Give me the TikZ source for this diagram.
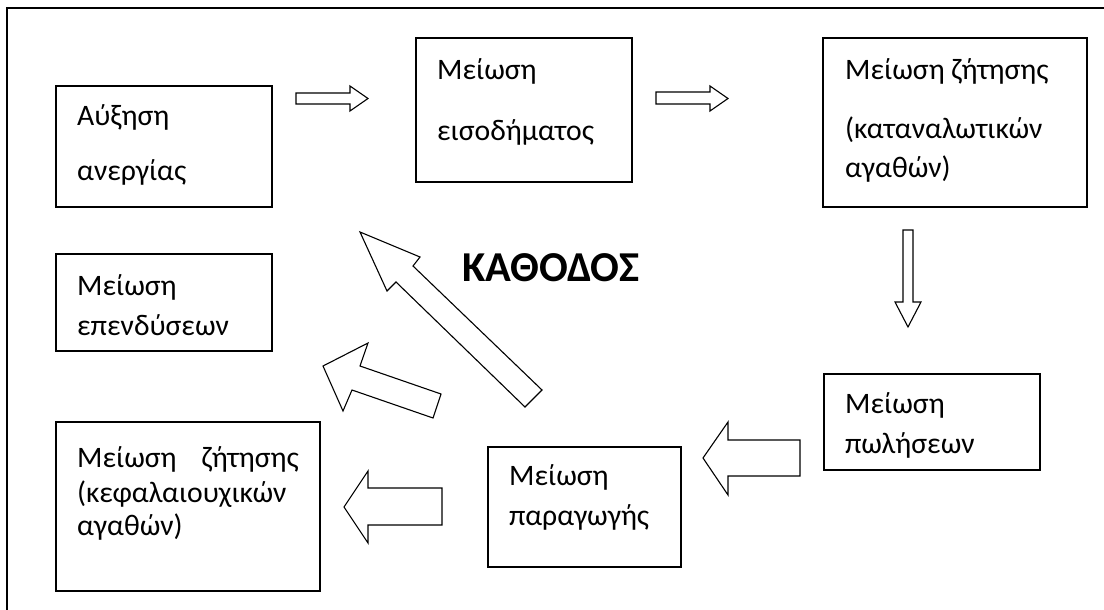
\documentclass[tikz,border=0pt]{standalone}
\usepackage{fontspec}
\setmainfont{Carlito}
\begin{document}
\begin{tikzpicture}[x=1pt,y=-1pt,
  box/.style={draw,line width=1.2pt,inner sep=0pt,fill=none},
  txt/.style={anchor=base west,inner sep=0pt,font=\fontsize{29.7}{32}\selectfont},
  txte/.style={anchor=base east,inner sep=0pt,font=\fontsize{29.7}{32}\selectfont},
  blockarrow/.style={draw,line width=1.1pt,line join=miter,fill=white}]
\useasboundingbox (0,0) rectangle (1104,610);
% frame
\draw[line width=2pt] (7,610) -- (7,8) -- (1104,8);
% boxes
\draw[box] (56,86) rectangle (272,207) coordinate (b1);
\draw[box] (416,38) rectangle (632,182) coordinate (b2);
\draw[box] (823,38) rectangle (1087,207) coordinate (b3);
\draw[box] (824,374) rectangle (1040,470) coordinate (b4);
\draw[box] (488,447) rectangle (681,567) coordinate (b5);
\draw[box] (56,422) rectangle (320,591) coordinate (b6);
\draw[box] (56,254) rectangle (272,351) coordinate (b7);
% texts
\node[txt] (t1a) at (77,125) {Αύξηση};
\node[txt] (t1b) at (77,180) {ανεργίας};
\node[txt] (t2a) at (437,80) {Μείωση};
\node[txt] (t2b) at (437,140) {εισοδήματος};
\node[txt] (t3a) at (845,80) {Μείωση ζήτησης};
\node[txt] (t3b) at (845,138) {(καταναλωτικών};
\node[txt] (t3c) at (845,177) {αγαθών)};
\node[txt] (t4a) at (845,413) {Μείωση};
\node[txt] (t4b) at (845,453) {πωλήσεων};
\node[txt] (t5a) at (509,485) {Μείωση};
\node[txt] (t5b) at (509,525) {παραγωγής};
\node[txt] (t6a) at (77,467) {Μείωση};
\node[txte] (t6a2) at (299,467) {ζήτησης};
\node[txt] (t6b) at (77,502) {(κεφαλαιουχικών};
\node[txt] (t6c) at (77,535) {αγαθών)};
\node[txt] (t7a) at (77,295) {Μείωση};
\node[txt] (t7b) at (77,335) {επενδύσεων};
\node[anchor=base west,inner sep=0pt,font=\fontsize{42.6}{46}\selectfont\bfseries] (kat) at (462,281) {ΚΑΘΟΔΟΣ};
% block arrows
\draw[blockarrow] (296,93) -- (350,93) -- (350,86) -- (368,98.5) -- (350,111) -- (350,104) -- (296,104) -- cycle;
\draw[blockarrow] (656,92) -- (710,92) -- (710,86) -- (728,98.5) -- (710,111) -- (710,104) -- (656,104) -- cycle;
\draw[blockarrow] (903,230) -- (913,230) -- (913,302) -- (921,302) -- (908,327) -- (895,302) -- (903,302) -- cycle;
\draw[blockarrow] (800,440) -- (728,440) -- (728,422) -- (703,458) -- (728,495) -- (728,476) -- (800,476) -- cycle;
\draw[blockarrow] (442,488) -- (368,488) -- (368,471) -- (344,507) -- (368,543) -- (368,525) -- (442,525) -- cycle;
\draw[blockarrow] (441,394) -- (360,366) -- (368,343) -- (323,366) -- (343,411) -- (352,390) -- (433,418) -- cycle;
\draw[blockarrow] (542,390) -- (413,266) -- (420,257) -- (360,232) -- (387,291) -- (396,282) -- (525,407) -- cycle;
\end{tikzpicture}
\end{document}
